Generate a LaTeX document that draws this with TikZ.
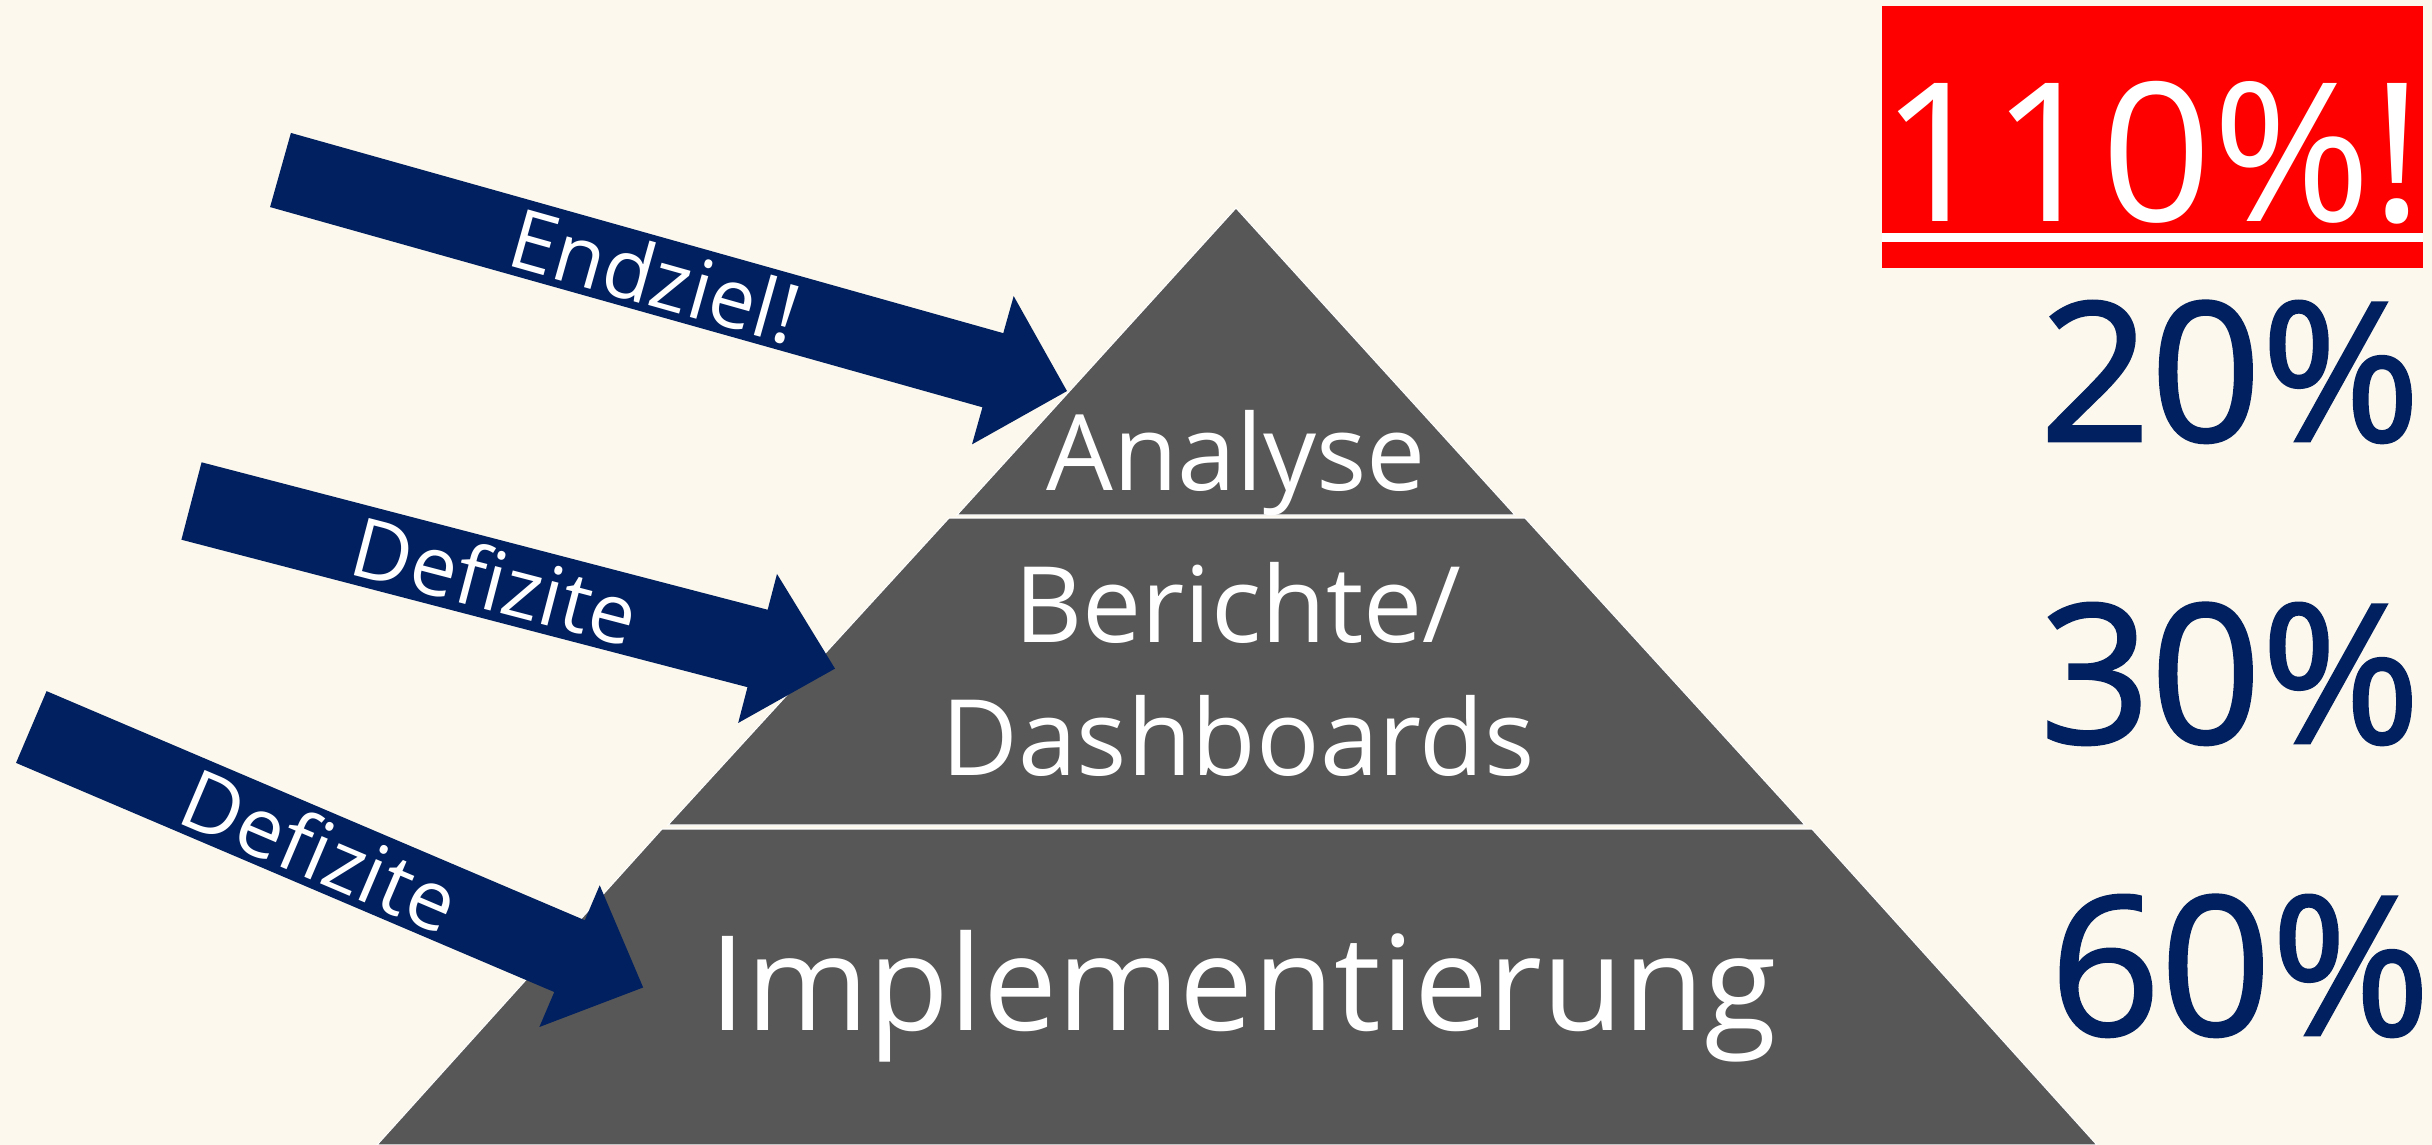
\documentclass[tikz,border=0pt]{standalone}
\usepackage{fontspec}
\setmainfont{Open Sans}
\newfontfamily\sharefont[FakeBold=1.5]{Open Sans}
\usetikzlibrary{positioning}
\definecolor{cream}{RGB}{252,248,237}
\definecolor{slate}{RGB}{87,87,87}
\definecolor{navy}{RGB}{0,32,96}

\begin{document}
\begin{tikzpicture}
    [
        x=0.01cm, y=0.01cm, inner sep=0pt,
        level_shape/.style={fill=slate, draw=white, line width=0.3pt},
        level_text/.style={text=white, align=center, anchor=base, font=\fontsize{30}{37.6}\selectfont},
        arrow_shape/.style={fill=navy},
        arrow_text/.style={text=white, transform shape, font=\fontsize{23.5}{28}\selectfont},
        share_text/.style={text=navy, anchor=base east, font=\sharefont\fontsize{55}{66}\selectfont},
    ]
        \fill[cream] (0,0) rectangle (2432,-1145) ;
        \useasboundingbox (0,0) rectangle (2432,-1145) ;
        % pyramid
        \filldraw[level_shape] (1236,-208) -- (1515,-515) -- (957,-515) -- cycle ;
        \filldraw[level_shape] (949,-518) -- (1525,-518) -- (1805,-825) -- (668,-825) -- cycle ;
        \filldraw[level_shape] (662,-829) -- (1812,-829) -- (2097,-1145) -- (377,-1145) -- cycle ;
        \node[level_text] (analyse) at (1236,-490) {Analyse} ;
        \node[level_text] (berichte) at (1238,-775) {Berichte/\\Dashboards} ;
        \node[level_text, font=\fontsize{37.5}{45}\selectfont] (implementierung) at (1243,-1030) {Implementierung} ;
        % arrows
        \begin{scope}[shift={(280.5,-170)}, rotate=-15.7]
            \fill[arrow_shape] (0,38.5) -- (740,38.5) -- (740,77) -- (817,0) -- (740,-77) -- (740,-38.5) -- (0,-38.5) -- cycle ;
            \node[arrow_text] (endziel) at (389,0) {Endziel!} ;
        \end{scope}
        \begin{scope}[shift={(191.5,-501)}, rotate=-14.6]
            \fill[arrow_shape] (0,40) -- (585,40) -- (585,77) -- (665,0) -- (585,-77) -- (585,-40) -- (0,-40) -- cycle ;
            \node[arrow_text] (defizite_mid) at (314,0) {Defizite} ;
        \end{scope}
        \begin{scope}[shift={(31.3,-727)}, rotate=-23.06]
            \fill[arrow_shape] (0,39) -- (585,39) -- (585,77) -- (665,0) -- (585,-77) -- (585,-39) -- (0,-39) -- cycle ;
            \node[arrow_text] (defizite_low) at (314,0) {Defizite} ;
        \end{scope}
        % shares
        \fill[red] (1882,-6) rectangle (2423,-268) ;
        \fill[white] (1882,-233) rectangle (2423,-242) ;
        \node[text=white, anchor=base, font=\fontsize{55}{66}\selectfont] (share110) at (2152,-221) {110\%!} ;
        \node[share_text] (share20) at (2421,-441) {20\%} ;
        \node[share_text] (share30) at (2421,-743) {30\%} ;
        \node[share_text] (share60) at (2431,-1035) {60\%} ;
\end{tikzpicture}
\end{document}
